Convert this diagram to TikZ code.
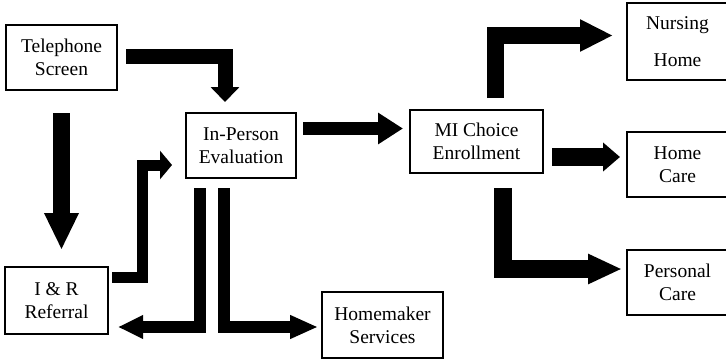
\documentclass[tikz,border=0pt]{standalone}
\usepackage{fontspec}
\setmainfont{Liberation Serif}
\usetikzlibrary{arrows.meta}
\begin{document}
\begin{tikzpicture}[x=1pt,y=-1pt,
  box/.style={draw, line width=1.6pt, align=center, inner sep=0pt,
    font=\fontsize{19.5}{23}\selectfont},
  fat/.style={draw=black, line width=#1, line join=miter, line cap=butt}]
\useasboundingbox (0,0) rectangle (726,359);
% nodes
\node[box, minimum width=111pt, minimum height=65pt] (ts) at (61.5,57.5) {Telephone\\Screen};
\node[box, minimum width=110pt, minimum height=65pt] (ip) at (241,145.5) {In-Person\\Evaluation};
\node[box, minimum width=133pt, minimum height=63pt] (mi) at (476.5,141.5) {MI Choice\\Enrollment};
\node[box, minimum width=103pt, minimum height=67pt] (ir) at (56.5,300.5) {I \& R\\Referral};
\node[box, minimum width=121pt, minimum height=66pt] (hs) at (382.5,325) {Homemaker\\Services};
\node[box, minimum width=101pt, minimum height=77pt] (nh) at (677.5,41.5) {Nursing\\[14pt]Home};
\node[box, minimum width=101pt, minimum height=65pt] (hc) at (677.5,164.5) {Home\\Care};
\node[box, minimum width=101pt, minimum height=65pt] (pc) at (677.5,282.5) {Personal\\Care};
% connector ends
\coordinate (tsA) at (126,56.5);   \coordinate (ipA) at (225,102);
\coordinate (tsB) at (61.5,113);   \coordinate (irB) at (61.5,250);
\coordinate (irC) at (112,277);    \coordinate (ipC) at (172,165);
\coordinate (ipD) at (303,128.5);  \coordinate (miD) at (403,128.5);
\coordinate (ipE) at (199.5,188);  \coordinate (irE) at (118,327);
\coordinate (ipF) at (224,188);    \coordinate (hsF) at (318,327);
\coordinate (miG) at (495,98);     \coordinate (nhG) at (613,35.5);
\coordinate (miH) at (552,157);    \coordinate (hcH) at (620,157);
\coordinate (miI) at (503,188);    \coordinate (pcI) at (622,269);
% connectors
\draw[fat=15pt, -{Triangle[length=15pt,width=28pt]}] (tsA) -| (ipA);
\draw[fat=17pt, -{Triangle[length=37pt,width=32pt]}] (tsB) -- (irB);
\draw[fat=11pt, -{Triangle[length=12pt,width=28pt]}] (irC) -| (142,165) -- (ipC);
\draw[fat=13pt, -{Triangle[length=25pt,width=30pt]}] (ipD) -- (miD);
\draw[fat=12pt, -{Triangle[length=25pt,width=22pt]}] (ipE) |- (irE);
\draw[fat=12pt, -{Triangle[length=28pt,width=22pt]}] (ipF) |- (hsF);
\draw[fat=17pt, -{Triangle[length=33pt,width=30pt]}] (miG) |- (nhG);
\draw[fat=18pt, -{Triangle[length=17pt,width=28pt]}] (miH) -- (hcH);
\draw[fat=18pt, -{Triangle[length=34pt,width=28pt]}] (miI) |- (pcI);
\end{tikzpicture}
\end{document}
